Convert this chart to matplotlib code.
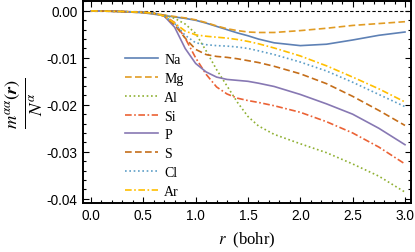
import matplotlib

matplotlib.use("Agg")
import matplotlib.pyplot as plt
from matplotlib.ticker import MultipleLocator, FormatStrFormatter

# values
r = [0.0, 0.25, 0.5, 0.6, 0.7, 0.8, 0.9, 1.0, 1.1, 1.2, 1.3, 1.4, 1.5, 1.6, 1.75, 2.0, 2.25, 2.5, 2.75, 3.0]

na = [0, -0.0001, -0.0004, -0.0007, -0.0010, -0.0013, -0.0016, -0.0020, -0.0026, -0.0033, -0.0040,
      -0.0047, -0.0053, -0.0060, -0.0068, -0.0074, -0.0071, -0.0062, -0.0052, -0.0045]
mg = [0, -0.0001, -0.0004, -0.0006, -0.0009, -0.0012, -0.0015, -0.0019, -0.0025, -0.0032, -0.0038,
      -0.0042, -0.0045, -0.0046, -0.0046, -0.0042, -0.0037, -0.0031, -0.0027, -0.0023]
al = [0, -0.0001, -0.0003, -0.0005, -0.0009, -0.0016, -0.0028, -0.0048, -0.0085, -0.0125, -0.0160,
      -0.0195, -0.0225, -0.0245, -0.0263, -0.0283, -0.0302, -0.0326, -0.0352, -0.0386]
si = [0, -0.0001, -0.0003, -0.0005, -0.0010, -0.0025, -0.0058, -0.0100, -0.0135, -0.0162, -0.0177,
      -0.0186, -0.0191, -0.0195, -0.0202, -0.0216, -0.0236, -0.0260, -0.0290, -0.0326]
p = [0, -0.0001, -0.0003, -0.0005, -0.0011, -0.0035, -0.0080, -0.0112, -0.0130, -0.0141, -0.0146,
     -0.0148, -0.0150, -0.0154, -0.0161, -0.0178, -0.0198, -0.0220, -0.0250, -0.0285]
s = [0, -0.0001, -0.0003, -0.0005, -0.0011, -0.0030, -0.0058, -0.0082, -0.0093, -0.0097, -0.0099,
     -0.0102, -0.0106, -0.0110, -0.0118, -0.0134, -0.0155, -0.0182, -0.0212, -0.0244]
cl = [0, -0.0001, -0.0003, -0.0005, -0.0011, -0.0027, -0.0052, -0.0068, -0.0072, -0.0074, -0.0075,
      -0.0077, -0.0080, -0.0085, -0.0093, -0.0109, -0.0128, -0.0152, -0.0178, -0.0204]
ar = [0, -0.0001, -0.0003, -0.0005, -0.0011, -0.0026, -0.0043, -0.0051, -0.0054, -0.0056, -0.0058,
      -0.0061, -0.0065, -0.0070, -0.0079, -0.0096, -0.0117, -0.0141, -0.0166, -0.0194]

labels = ["Na", "Mg", "Al", "Si", "P", "S", "Cl", "Ar"]
series = [na, mg, al, si, p, s, cl, ar]

colors = ["#5E81B5", "#E19C24", "#8FB032", "#EB6235", "#8778B3", "#C56E1A", "#5D9EC7", "#FFBF00"]
styles = ["-", (0, (4, 2)), (0, (1, 1.6)), (0, (4, 1.5, 1, 1.5)),
          "-", (0, (4, 2)), (0, (1, 1.6)), (0, (4, 1.5, 1, 1.5))]

plt.rcParams["font.family"] = ["Liberation Sans", "DejaVu Sans"]
plt.rcParams["mathtext.fontset"] = "stix"

fig = plt.figure(figsize=(4.15, 2.53), dpi=100)
ax = fig.add_axes([0.2, 0.194, 0.79, 0.798])

ax.axhline(0.0, color="black", linestyle=(0, (3, 2)), linewidth=0.8)
for lab, vals, c, ls in zip(labels, series, colors, styles):
    ax.plot(r, vals, color=c, linestyle=ls, linewidth=1.2, label=lab)

ax.set_xlim(-0.076, 3.056)
ax.set_ylim(-0.0409, 0.0021)
ax.xaxis.set_major_locator(MultipleLocator(0.5))
ax.xaxis.set_minor_locator(MultipleLocator(0.1))
ax.yaxis.set_major_locator(MultipleLocator(0.01))
ax.yaxis.set_minor_locator(MultipleLocator(0.002))
ax.xaxis.set_major_formatter(FormatStrFormatter("%.1f"))
ax.yaxis.set_major_formatter(FormatStrFormatter("%.2f"))
ax.tick_params(which="both", direction="in", top=True, right=True, labelsize=9.8, width=0.8)
ax.tick_params(which="major", length=4, pad=4)
ax.tick_params(which="minor", length=2)
for sp in ax.spines.values():
    sp.set_linewidth(1.4)

ax.set_xlabel(r"$r$  (bohr)", family="Liberation Serif", fontsize=12, labelpad=5)
ax.set_ylabel(r"$\frac{m^{\alpha\alpha}(\boldsymbol{r})}{N^{\alpha}}$", fontsize=19, labelpad=1)

ax.legend(loc="upper left", bbox_to_anchor=(0.11, 0.77), frameon=False, handlelength=2.4,
          handletextpad=0.45, labelspacing=0.42, borderaxespad=0.0,
          prop={"family": "Liberation Serif", "size": 10})

fig.savefig("out.png", dpi=100)
